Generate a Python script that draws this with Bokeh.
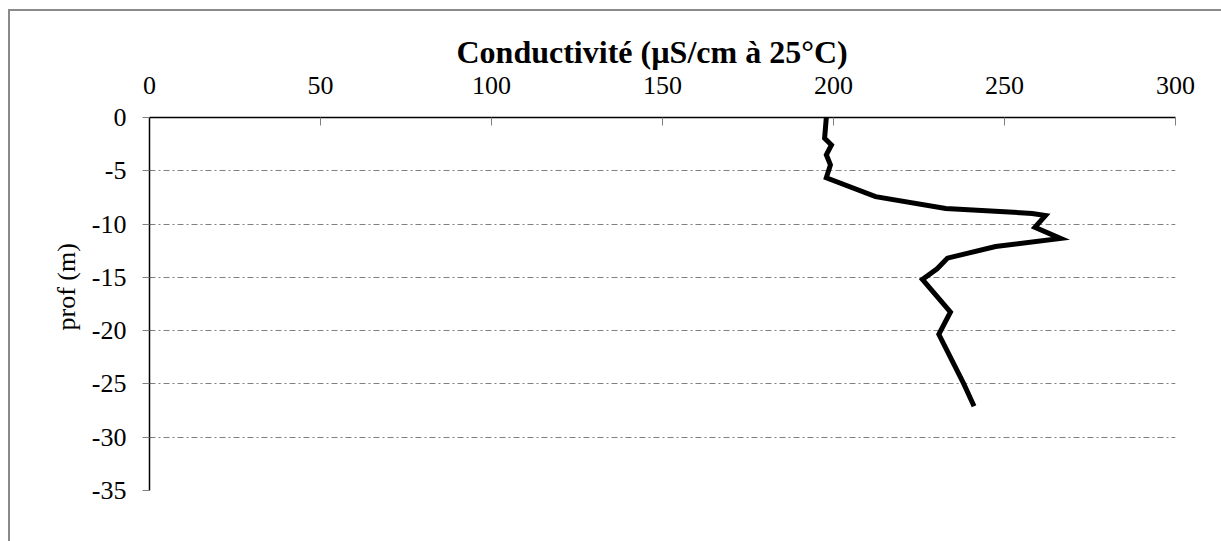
from bokeh.plotting import figure
from bokeh.models import LinearAxis, Range1d, FixedTicker, Title
from bokeh.embed import file_html
from bokeh.resources import INLINE

# Data
conductivite = [197.9, 197.4, 199.4, 197.9, 199.1, 197.9, 212.3, 232.8, 258.1, 262.0,
                258.9, 266.4, 247.4, 233.3, 230.3, 226.0, 234.2, 230.8, 238.1, 241.1]
profondeur = [0.0, -1.95, -2.57, -3.5, -4.45, -5.65, -7.43, -8.53, -9.0, -9.2,
              -10.3, -11.35, -12.1, -13.2, -14.2, -15.2, -18.25, -20.35, -25.0, -27.1]
x_ticks = [0, 50, 100, 150, 200, 250, 300]
y_ticks = [0, -5, -10, -15, -20, -25, -30, -35]
titre = "Conductivité (µS/cm à 25°C)"
titre_y = "prof (m)"

FONT = "Liberation Serif"

p = figure(width=1213, height=532, output_backend="svg", toolbar_location=None,
           x_range=Range1d(0, 300), y_range=Range1d(-35, 0),
           x_axis_location=None, y_axis_location=None,
           min_border_left=139, min_border_right=48, min_border_top=106, min_border_bottom=53,
           margin=(9, 0, 0, 8),
           styles={"border-left": "2px solid #8a8a8a", "border-top": "2px solid #8a8a8a"})
p.outline_line_color = None
p.background_fill_color = "white"
p.border_fill_color = "white"

# Top axis
xa = LinearAxis(ticker=FixedTicker(ticks=x_ticks))
xa.axis_line_color = "black"
xa.axis_line_width = 1.5
xa.major_tick_in = 8
xa.major_tick_out = 0
xa.major_tick_line_color = "#808080"
xa.minor_tick_line_color = None
xa.major_label_text_font = FONT
xa.major_label_text_font_size = "26px"
xa.major_label_text_color = "black"
xa.major_label_standoff = 24
p.add_layout(xa, "above")

# Left axis
ya = LinearAxis(ticker=FixedTicker(ticks=y_ticks))
ya.axis_line_color = "black"
ya.axis_line_width = 1.5
ya.major_tick_in = 0
ya.major_tick_out = 7
ya.major_tick_line_color = "#808080"
ya.minor_tick_line_color = None
ya.major_label_text_font = FONT
ya.major_label_text_font_size = "26px"
ya.major_label_text_color = "black"
ya.major_label_standoff = 16
ya.major_label_overrides = {t: str(t) for t in y_ticks}
p.add_layout(ya, "left")

p.xgrid.visible = False
p.ygrid.ticker = FixedTicker(ticks=y_ticks[1:])
p.ygrid.grid_line_color = "#808080"
p.ygrid.grid_line_dash = "6 3 2 3"
p.ygrid.grid_line_width = 1

p.add_layout(Title(text=titre, align="left", offset=307, standoff=7,
                   text_font=FONT, text_font_size="32px", text_font_style="bold",
                   text_color="black"), "above")
p.add_layout(Title(text=titre_y, align="left", offset=160, standoff=16,
                   text_font=FONT, text_font_size="26px", text_font_style="normal",
                   text_color="black"), "left")

p.line(conductivite, profondeur, line_color="black", line_width=5, line_join="miter")

open("out.html", "w").write(file_html(p, INLINE))
